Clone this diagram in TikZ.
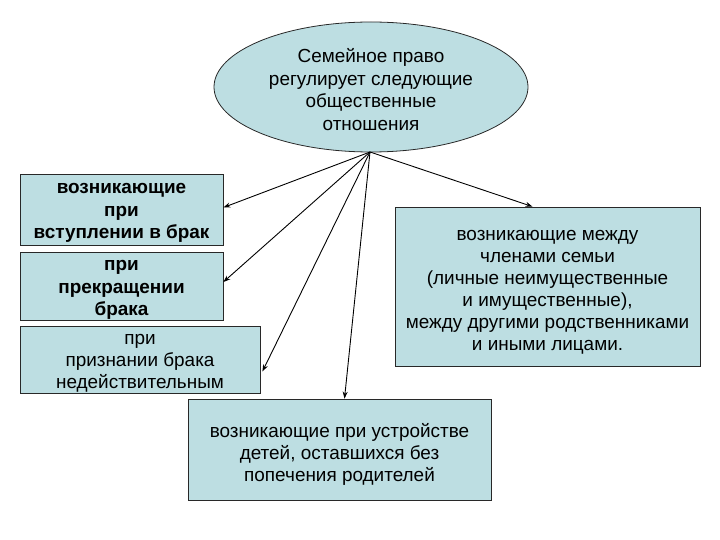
\documentclass[tikz,border=0pt]{standalone}
\usepackage{fontspec}
\setmainfont{Liberation Sans}
\usetikzlibrary{shapes.geometric,arrows.meta,calc}
\definecolor{boxfill}{RGB}{189,222,226}
\definecolor{edge}{RGB}{40,40,40}
\begin{document}
\begin{tikzpicture}[x=1bp,y=-1bp,
  box/.style={draw=edge,line width=0.8pt,fill=boxfill,rectangle,inner sep=0pt},
  txt/.style={align=center,inner sep=0pt,font=\fontsize{19}{22}\selectfont},
  btxt/.style={txt,font=\fontsize{19}{22.5}\selectfont\bfseries},
  conn/.style={draw=black,line width=0.9pt,-{Stealth[length=7pt,width=5pt]}}]
\useasboundingbox (0,0) rectangle (720,540);
\node[ellipse,draw=edge,line width=0.8pt,fill=boxfill,minimum width=314bp,minimum height=130bp,inner sep=0pt] (top) at (371,87) {};
\node[txt,font=\fontsize{19}{22.5}\selectfont] (topt) at ([yshift=-2.5bp]top.center) {Семейное право\\регулирует следующие\\общественные\\отношения};
\coordinate (src) at (370,152);
\node[box,minimum width=203bp,minimum height=71bp] (b1) at (121.5,209.5) {};
\node[btxt] (b1t) at ([yshift=-3.5bp]b1.center) {возникающие\\при\\вступлении в брак};
\node[box,minimum width=203bp,minimum height=68bp] (b2) at (121.5,286) {};
\node[btxt] (b2t) at ([yshift=-4bp]b2.center) {при\\прекращении\\брака};
\node[box,minimum width=240bp,minimum height=67bp] (b3) at (140,359.5) {};
\node[txt] (b3t) at ([yshift=-4bp]b3.center) {при\\признании брака\\недействительным};
\node[box,minimum width=305bp,minimum height=159bp] (r) at (547.5,286.5) {};
\node[txt] (rt) at ([yshift=-6bp]r.center) {возникающие между\\членами семьи\\(личные неимущественные\\и имущественные),\\между другими родственниками\\и иными лицами.};
\node[box,minimum width=303bp,minimum height=101bp] (bot) at (339.5,449.5) {};
\node[txt] (bott) at ([yshift=-5bp]bot.center) {возникающие при устройстве\\детей, оставшихся без\\попечения родителей};
\draw[conn] (src) -- ([yshift=2bp]b1.east);
\draw[conn] (src) -- ([yshift=4bp]b2.east);
\draw[conn] (src) -- ([xshift=2bp,yshift=-12bp]b3.east);
\draw[conn] (src) -- ([xshift=-15bp]r.north);
\draw[conn] (src) -- ([xshift=5bp]bot.north);
\end{tikzpicture}
\end{document}
